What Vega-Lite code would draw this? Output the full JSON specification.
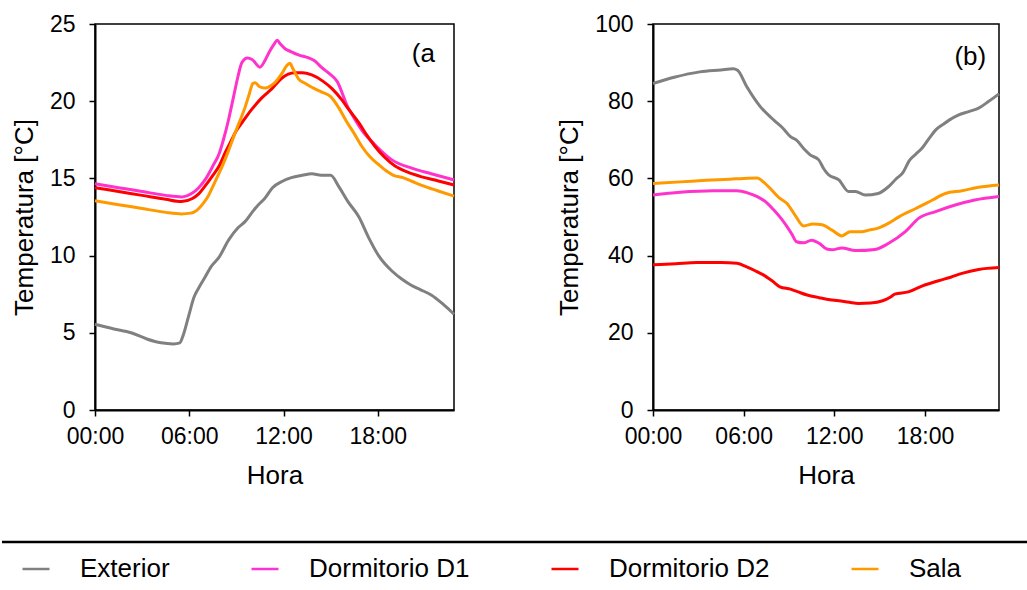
{
"$schema": "https://vega.github.io/schema/vega-lite/v6.json",
"background": "white",
"padding": {"left": 0, "top": 12, "right": 0, "bottom": 0},
"datasets": {
"a": [
{"serie":"Exterior","hora":0,"temp":5.55},{"serie":"Exterior","hora":1.2,"temp":5.25},{"serie":"Exterior","hora":2.3,"temp":5.0},{"serie":"Exterior","hora":3.3,"temp":4.6},{"serie":"Exterior","hora":4.2,"temp":4.35},{"serie":"Exterior","hora":5.0,"temp":4.28},{"serie":"Exterior","hora":5.4,"temp":4.35},{"serie":"Exterior","hora":5.6,"temp":4.8},{"serie":"Exterior","hora":5.95,"temp":6.05},{"serie":"Exterior","hora":6.3,"temp":7.3},{"serie":"Exterior","hora":6.6,"temp":7.9},{"serie":"Exterior","hora":7.0,"temp":8.6},{"serie":"Exterior","hora":7.4,"temp":9.3},{"serie":"Exterior","hora":7.9,"temp":9.9},{"serie":"Exterior","hora":8.5,"temp":11.0},{"serie":"Exterior","hora":9.1,"temp":11.8},{"serie":"Exterior","hora":9.55,"temp":12.2},{"serie":"Exterior","hora":10.0,"temp":12.8},{"serie":"Exterior","hora":10.4,"temp":13.3},{"serie":"Exterior","hora":10.8,"temp":13.7},{"serie":"Exterior","hora":11.3,"temp":14.4},{"serie":"Exterior","hora":11.9,"temp":14.8},{"serie":"Exterior","hora":12.5,"temp":15.05},{"serie":"Exterior","hora":13.2,"temp":15.2},{"serie":"Exterior","hora":13.8,"temp":15.3},{"serie":"Exterior","hora":14.4,"temp":15.2},{"serie":"Exterior","hora":15.0,"temp":15.2},{"serie":"Exterior","hora":15.5,"temp":14.5},{"serie":"Exterior","hora":16.1,"temp":13.5},{"serie":"Exterior","hora":16.8,"temp":12.5},{"serie":"Exterior","hora":17.4,"temp":11.2},{"serie":"Exterior","hora":18.05,"temp":10.0},{"serie":"Exterior","hora":18.9,"temp":9.0},{"serie":"Exterior","hora":19.5,"temp":8.5},{"serie":"Exterior","hora":20.1,"temp":8.1},{"serie":"Exterior","hora":20.7,"temp":7.8},{"serie":"Exterior","hora":21.4,"temp":7.45},{"serie":"Exterior","hora":22.1,"temp":6.9},{"serie":"Exterior","hora":22.85,"temp":6.2},
{"serie":"Dormitorio D1","hora":0,"temp":14.65},{"serie":"Dormitorio D1","hora":1.5,"temp":14.4},{"serie":"Dormitorio D1","hora":3,"temp":14.15},{"serie":"Dormitorio D1","hora":4.5,"temp":13.9},{"serie":"Dormitorio D1","hora":5.5,"temp":13.8},{"serie":"Dormitorio D1","hora":6.2,"temp":14.05},{"serie":"Dormitorio D1","hora":6.6,"temp":14.4},{"serie":"Dormitorio D1","hora":7.0,"temp":14.9},{"serie":"Dormitorio D1","hora":7.5,"temp":15.8},{"serie":"Dormitorio D1","hora":7.9,"temp":16.6},{"serie":"Dormitorio D1","hora":8.2,"temp":17.6},{"serie":"Dormitorio D1","hora":8.5,"temp":18.8},{"serie":"Dormitorio D1","hora":8.8,"temp":20.2},{"serie":"Dormitorio D1","hora":9.1,"temp":21.6},{"serie":"Dormitorio D1","hora":9.35,"temp":22.5},{"serie":"Dormitorio D1","hora":9.7,"temp":22.8},{"serie":"Dormitorio D1","hora":10.0,"temp":22.7},{"serie":"Dormitorio D1","hora":10.5,"temp":22.2},{"serie":"Dormitorio D1","hora":10.8,"temp":22.6},{"serie":"Dormitorio D1","hora":11.1,"temp":23.2},{"serie":"Dormitorio D1","hora":11.4,"temp":23.7},{"serie":"Dormitorio D1","hora":11.6,"temp":23.95},{"serie":"Dormitorio D1","hora":11.8,"temp":23.7},{"serie":"Dormitorio D1","hora":12.1,"temp":23.4},{"serie":"Dormitorio D1","hora":12.5,"temp":23.2},{"serie":"Dormitorio D1","hora":12.95,"temp":23.0},{"serie":"Dormitorio D1","hora":13.6,"temp":22.8},{"serie":"Dormitorio D1","hora":14.0,"temp":22.6},{"serie":"Dormitorio D1","hora":14.4,"temp":22.2},{"serie":"Dormitorio D1","hora":14.9,"temp":21.8},{"serie":"Dormitorio D1","hora":15.4,"temp":21.3},{"serie":"Dormitorio D1","hora":16.1,"temp":19.6},{"serie":"Dormitorio D1","hora":16.5,"temp":18.9},{"serie":"Dormitorio D1","hora":17.0,"temp":18.1},{"serie":"Dormitorio D1","hora":17.8,"temp":17.2},{"serie":"Dormitorio D1","hora":18.9,"temp":16.2},{"serie":"Dormitorio D1","hora":20.2,"temp":15.65},{"serie":"Dormitorio D1","hora":21.4,"temp":15.3},{"serie":"Dormitorio D1","hora":22.85,"temp":14.9},
{"serie":"Dormitorio D2","hora":0,"temp":14.4},{"serie":"Dormitorio D2","hora":1.5,"temp":14.15},{"serie":"Dormitorio D2","hora":3,"temp":13.9},{"serie":"Dormitorio D2","hora":4.5,"temp":13.65},{"serie":"Dormitorio D2","hora":5.5,"temp":13.5},{"serie":"Dormitorio D2","hora":6.2,"temp":13.7},{"serie":"Dormitorio D2","hora":6.6,"temp":14.0},{"serie":"Dormitorio D2","hora":7.0,"temp":14.5},{"serie":"Dormitorio D2","hora":7.5,"temp":15.2},{"serie":"Dormitorio D2","hora":7.9,"temp":15.8},{"serie":"Dormitorio D2","hora":8.3,"temp":16.7},{"serie":"Dormitorio D2","hora":8.7,"temp":17.5},{"serie":"Dormitorio D2","hora":9.0,"temp":18.1},{"serie":"Dormitorio D2","hora":9.35,"temp":18.6},{"serie":"Dormitorio D2","hora":9.7,"temp":19.1},{"serie":"Dormitorio D2","hora":10.0,"temp":19.5},{"serie":"Dormitorio D2","hora":10.6,"temp":20.2},{"serie":"Dormitorio D2","hora":11.25,"temp":20.8},{"serie":"Dormitorio D2","hora":11.9,"temp":21.5},{"serie":"Dormitorio D2","hora":12.3,"temp":21.75},{"serie":"Dormitorio D2","hora":12.7,"temp":21.85},{"serie":"Dormitorio D2","hora":13.2,"temp":21.85},{"serie":"Dormitorio D2","hora":13.8,"temp":21.7},{"serie":"Dormitorio D2","hora":14.5,"temp":21.3},{"serie":"Dormitorio D2","hora":15.1,"temp":20.8},{"serie":"Dormitorio D2","hora":15.7,"temp":20.1},{"serie":"Dormitorio D2","hora":16.2,"temp":19.4},{"serie":"Dormitorio D2","hora":16.8,"temp":18.6},{"serie":"Dormitorio D2","hora":17.3,"temp":17.8},{"serie":"Dormitorio D2","hora":17.8,"temp":17.1},{"serie":"Dormitorio D2","hora":18.4,"temp":16.4},{"serie":"Dormitorio D2","hora":19.1,"temp":15.8},{"serie":"Dormitorio D2","hora":19.9,"temp":15.4},{"serie":"Dormitorio D2","hora":20.8,"temp":15.1},{"serie":"Dormitorio D2","hora":21.8,"temp":14.85},{"serie":"Dormitorio D2","hora":22.85,"temp":14.57},
{"serie":"Sala","hora":0,"temp":13.55},{"serie":"Sala","hora":1.5,"temp":13.3},{"serie":"Sala","hora":3,"temp":13.05},{"serie":"Sala","hora":4.5,"temp":12.8},{"serie":"Sala","hora":5.5,"temp":12.7},{"serie":"Sala","hora":6.1,"temp":12.75},{"serie":"Sala","hora":6.5,"temp":12.95},{"serie":"Sala","hora":6.9,"temp":13.4},{"serie":"Sala","hora":7.2,"temp":13.85},{"serie":"Sala","hora":7.6,"temp":14.7},{"serie":"Sala","hora":8.1,"temp":15.8},{"serie":"Sala","hora":8.5,"temp":16.8},{"serie":"Sala","hora":8.9,"temp":17.9},{"serie":"Sala","hora":9.25,"temp":18.8},{"serie":"Sala","hora":9.55,"temp":19.6},{"serie":"Sala","hora":9.8,"temp":20.4},{"serie":"Sala","hora":10.05,"temp":21.15},{"serie":"Sala","hora":10.2,"temp":21.2},{"serie":"Sala","hora":10.45,"temp":20.95},{"serie":"Sala","hora":10.8,"temp":20.85},{"serie":"Sala","hora":11.0,"temp":20.9},{"serie":"Sala","hora":11.4,"temp":21.15},{"serie":"Sala","hora":11.9,"temp":21.8},{"serie":"Sala","hora":12.2,"temp":22.3},{"serie":"Sala","hora":12.4,"temp":22.45},{"serie":"Sala","hora":12.6,"temp":22.1},{"serie":"Sala","hora":12.95,"temp":21.45},{"serie":"Sala","hora":13.4,"temp":21.15},{"serie":"Sala","hora":13.8,"temp":20.9},{"serie":"Sala","hora":14.4,"temp":20.6},{"serie":"Sala","hora":15.0,"temp":20.3},{"serie":"Sala","hora":15.5,"temp":19.6},{"serie":"Sala","hora":16.0,"temp":18.7},{"serie":"Sala","hora":16.5,"temp":17.9},{"serie":"Sala","hora":17.0,"temp":17.05},{"serie":"Sala","hora":17.5,"temp":16.4},{"serie":"Sala","hora":18.05,"temp":15.9},{"serie":"Sala","hora":18.6,"temp":15.45},{"serie":"Sala","hora":19.0,"temp":15.2},{"serie":"Sala","hora":19.6,"temp":15.05},{"serie":"Sala","hora":20.2,"temp":14.8},{"serie":"Sala","hora":20.8,"temp":14.55},{"serie":"Sala","hora":21.8,"temp":14.2},{"serie":"Sala","hora":22.85,"temp":13.85}
],
"b": [
{"serie":"Exterior","hora":0,"temp":84.6},{"serie":"Exterior","hora":1.4,"temp":86.2},{"serie":"Exterior","hora":3.1,"temp":87.6},{"serie":"Exterior","hora":4.5,"temp":88.1},{"serie":"Exterior","hora":5.3,"temp":88.4},{"serie":"Exterior","hora":5.6,"temp":88.0},{"serie":"Exterior","hora":6.2,"temp":83.8},{"serie":"Exterior","hora":7.1,"temp":78.6},{"serie":"Exterior","hora":8.0,"temp":75.1},{"serie":"Exterior","hora":8.6,"temp":73.0},{"serie":"Exterior","hora":9.1,"temp":70.8},{"serie":"Exterior","hora":9.5,"temp":69.9},{"serie":"Exterior","hora":10.0,"temp":67.6},{"serie":"Exterior","hora":10.4,"temp":66.1},{"serie":"Exterior","hora":10.97,"temp":64.8},{"serie":"Exterior","hora":11.3,"temp":62.5},{"serie":"Exterior","hora":11.6,"temp":61.0},{"serie":"Exterior","hora":12.3,"temp":59.6},{"serie":"Exterior","hora":12.95,"temp":56.6},{"serie":"Exterior","hora":13.4,"temp":56.6},{"serie":"Exterior","hora":14.05,"temp":55.7},{"serie":"Exterior","hora":14.9,"temp":56.1},{"serie":"Exterior","hora":15.6,"temp":57.9},{"serie":"Exterior","hora":16.1,"temp":59.9},{"serie":"Exterior","hora":16.5,"temp":61.3},{"serie":"Exterior","hora":17.0,"temp":64.8},{"serie":"Exterior","hora":17.4,"temp":66.3},{"serie":"Exterior","hora":17.8,"temp":67.8},{"serie":"Exterior","hora":18.3,"temp":70.5},{"serie":"Exterior","hora":18.7,"temp":72.5},{"serie":"Exterior","hora":19.2,"temp":74.0},{"serie":"Exterior","hora":19.6,"temp":75.1},{"serie":"Exterior","hora":20.2,"temp":76.4},{"serie":"Exterior","hora":20.9,"temp":77.3},{"serie":"Exterior","hora":21.55,"temp":78.2},{"serie":"Exterior","hora":22.2,"temp":79.9},{"serie":"Exterior","hora":22.9,"temp":81.9},
{"serie":"Dormitorio D1","hora":0,"temp":55.7},{"serie":"Dormitorio D1","hora":1.8,"temp":56.4},{"serie":"Dormitorio D1","hora":4.0,"temp":56.8},{"serie":"Dormitorio D1","hora":5.56,"temp":56.8},{"serie":"Dormitorio D1","hora":6.3,"temp":56.2},{"serie":"Dormitorio D1","hora":6.9,"temp":55.3},{"serie":"Dormitorio D1","hora":7.5,"temp":53.8},{"serie":"Dormitorio D1","hora":8.0,"temp":51.8},{"serie":"Dormitorio D1","hora":8.5,"temp":49.5},{"serie":"Dormitorio D1","hora":8.87,"temp":47.5},{"serie":"Dormitorio D1","hora":9.2,"temp":45.5},{"serie":"Dormitorio D1","hora":9.5,"temp":43.6},{"serie":"Dormitorio D1","hora":9.97,"temp":43.3},{"serie":"Dormitorio D1","hora":10.5,"temp":44.0},{"serie":"Dormitorio D1","hora":11.0,"temp":43.2},{"serie":"Dormitorio D1","hora":11.5,"temp":41.7},{"serie":"Dormitorio D1","hora":11.85,"temp":41.5},{"serie":"Dormitorio D1","hora":12.5,"temp":42.0},{"serie":"Dormitorio D1","hora":13.4,"temp":41.3},{"serie":"Dormitorio D1","hora":14.7,"temp":41.6},{"serie":"Dormitorio D1","hora":15.6,"temp":43.2},{"serie":"Dormitorio D1","hora":16.7,"temp":46.2},{"serie":"Dormitorio D1","hora":17.6,"temp":49.7},{"serie":"Dormitorio D1","hora":18.7,"temp":51.4},{"serie":"Dormitorio D1","hora":20.0,"temp":53.1},{"serie":"Dormitorio D1","hora":21.3,"temp":54.4},{"serie":"Dormitorio D1","hora":22.9,"temp":55.3},
{"serie":"Dormitorio D2","hora":0,"temp":37.6},{"serie":"Dormitorio D2","hora":1.5,"temp":37.9},{"serie":"Dormitorio D2","hora":2.9,"temp":38.2},{"serie":"Dormitorio D2","hora":4.5,"temp":38.2},{"serie":"Dormitorio D2","hora":5.56,"temp":38.0},{"serie":"Dormitorio D2","hora":6.2,"temp":37.1},{"serie":"Dormitorio D2","hora":6.8,"temp":36.0},{"serie":"Dormitorio D2","hora":7.3,"temp":35.0},{"serie":"Dormitorio D2","hora":7.9,"temp":33.4},{"serie":"Dormitorio D2","hora":8.4,"temp":31.9},{"serie":"Dormitorio D2","hora":9.1,"temp":31.3},{"serie":"Dormitorio D2","hora":9.6,"temp":30.6},{"serie":"Dormitorio D2","hora":10.2,"temp":29.8},{"serie":"Dormitorio D2","hora":11.0,"temp":29.1},{"serie":"Dormitorio D2","hora":11.5,"temp":28.7},{"serie":"Dormitorio D2","hora":12.3,"temp":28.3},{"serie":"Dormitorio D2","hora":13.0,"temp":27.9},{"serie":"Dormitorio D2","hora":13.6,"temp":27.6},{"serie":"Dormitorio D2","hora":14.4,"temp":27.7},{"serie":"Dormitorio D2","hora":15.2,"temp":28.3},{"serie":"Dormitorio D2","hora":15.7,"temp":29.2},{"serie":"Dormitorio D2","hora":16.0,"temp":30.0},{"serie":"Dormitorio D2","hora":16.9,"temp":30.6},{"serie":"Dormitorio D2","hora":17.8,"temp":32.1},{"serie":"Dormitorio D2","hora":18.9,"temp":33.5},{"serie":"Dormitorio D2","hora":19.7,"temp":34.4},{"serie":"Dormitorio D2","hora":20.45,"temp":35.4},{"serie":"Dormitorio D2","hora":21.55,"temp":36.4},{"serie":"Dormitorio D2","hora":22.9,"temp":36.9},
{"serie":"Sala","hora":0,"temp":58.7},{"serie":"Sala","hora":1.8,"temp":59.1},{"serie":"Sala","hora":3.5,"temp":59.5},{"serie":"Sala","hora":5.1,"temp":59.8},{"serie":"Sala","hora":6.0,"temp":60.0},{"serie":"Sala","hora":6.9,"temp":60.1},{"serie":"Sala","hora":7.3,"temp":59.1},{"serie":"Sala","hora":7.9,"temp":56.8},{"serie":"Sala","hora":8.4,"temp":54.8},{"serie":"Sala","hora":8.87,"temp":53.5},{"serie":"Sala","hora":9.4,"temp":50.5},{"serie":"Sala","hora":9.97,"temp":47.7},{"serie":"Sala","hora":10.6,"temp":48.2},{"serie":"Sala","hora":11.2,"temp":48.0},{"serie":"Sala","hora":11.85,"temp":46.6},{"serie":"Sala","hora":12.5,"temp":45.1},{"serie":"Sala","hora":13.05,"temp":46.2},{"serie":"Sala","hora":13.8,"temp":46.2},{"serie":"Sala","hora":14.3,"temp":46.6},{"serie":"Sala","hora":14.9,"temp":47.1},{"serie":"Sala","hora":15.6,"temp":48.4},{"serie":"Sala","hora":16.3,"temp":50.1},{"serie":"Sala","hora":17.4,"temp":52.2},{"serie":"Sala","hora":18.5,"temp":54.4},{"serie":"Sala","hora":19.35,"temp":56.1},{"serie":"Sala","hora":20.45,"temp":56.8},{"serie":"Sala","hora":21.55,"temp":57.7},{"serie":"Sala","hora":22.9,"temp":58.3}
]
},
"config": {
  "font": "Liberation Sans",
  "view": {"stroke": "#000000", "strokeWidth": 1.5},
  "axis": {"grid": false, "domainColor": "#000000", "domainWidth": 2, "tickColor": "#000000", "tickWidth": 1.5, "tickSize": 6, "labelFont": "Liberation Sans", "labelFontSize": 23, "labelColor": "#000000", "titleFont": "Liberation Sans", "titleFontSize": 26, "titleFontWeight": "normal", "titleColor": "#000000"},
  "axisX": {"labelPadding": 9, "titlePadding": 14, "labelFlush": false},
  "axisY": {"labelPadding": 14, "titlePadding": 12},
  "legend": {"padding": 0}
},
"spacing": 51,
"vconcat": [
{
  "spacing": 94,
  "hconcat": [
  {
    "width": 359, "height": 386,
    "layer": [
      {
        "data": {"name": "a"},
        "mark": {"type": "line", "strokeWidth": 3, "interpolate": "monotone"},
        "encoding": {
          "x": {"field": "hora", "type": "quantitative", "scale": {"domain": [0, 22.85], "nice": false}, "axis": {"values": [0, 6, 12, 18], "labelExpr": "(datum.value < 10 ? '0' : '') + datum.value + ':00'", "title": "Hora"}},
          "y": {"field": "temp", "type": "quantitative", "scale": {"domain": [0, 25], "nice": false}, "axis": {"values": [0, 5, 10, 15, 20, 25], "title": "Temperatura [°C]"}},
          "color": {"field": "serie", "type": "nominal",
            "scale": {"domain": ["Exterior", "Dormitorio D1", "Dormitorio D2", "Sala"], "range": ["#808080", "#FF33CC", "#FF0000", "#FF9900"]},
            "legend": {"title": null, "orient": "none", "direction": "horizontal", "legendX": -74, "legendY": 530, "symbolType": "stroke", "symbolSize": 729, "symbolStrokeWidth": 2.5, "labelOffset": 29, "columnPadding": 76, "labelFont": "Liberation Sans", "labelFontSize": 26, "labelColor": "#000000", "labelLimit": 400, "gridAlign": "each"}
          }
        }
      },
      {
        "data": {"values": [{"etiqueta": "(a"}]},
        "mark": {"type": "text", "fontSize": 26, "font": "Liberation Sans", "color": "#000000"},
        "encoding": {"x": {"datum": 20.9}, "y": {"datum": 23.06}, "text": {"field": "etiqueta"}}
      }
    ]
  },
  {
    "width": 346, "height": 386,
    "layer": [
      {
        "data": {"name": "b"},
        "mark": {"type": "line", "strokeWidth": 3, "interpolate": "monotone"},
        "encoding": {
          "x": {"field": "hora", "type": "quantitative", "scale": {"domain": [0, 22.9], "nice": false}, "axis": {"values": [0, 6, 12, 18], "labelExpr": "(datum.value < 10 ? '0' : '') + datum.value + ':00'", "title": "Hora"}},
          "y": {"field": "temp", "type": "quantitative", "scale": {"domain": [0, 100], "nice": false}, "axis": {"values": [0, 20, 40, 60, 80, 100], "title": "Temperatura [°C]"}},
          "color": {"field": "serie", "type": "nominal"}
        }
      },
      {
        "data": {"values": [{"etiqueta": "(b)"}]},
        "mark": {"type": "text", "fontSize": 26, "font": "Liberation Sans", "color": "#000000"},
        "encoding": {"x": {"datum": 21.0}, "y": {"datum": 91.5}, "text": {"field": "etiqueta"}}
      }
    ]
  }
  ]
},
{
  "width": 934, "height": 40,
  "view": {"stroke": null},
  "data": {"values": [{"linea": "separador"}]},
  "mark": {"type": "rule", "color": "#000000", "strokeWidth": 2.5},
  "encoding": {
    "x": {"datum": 0, "scale": {"domain": [0, 1], "range": [-93, 934]}, "axis": null},
    "x2": {"datum": 1},
    "y": {"datum": 1, "scale": {"domain": [0, 1]}, "axis": null}
  }
}
]
}
